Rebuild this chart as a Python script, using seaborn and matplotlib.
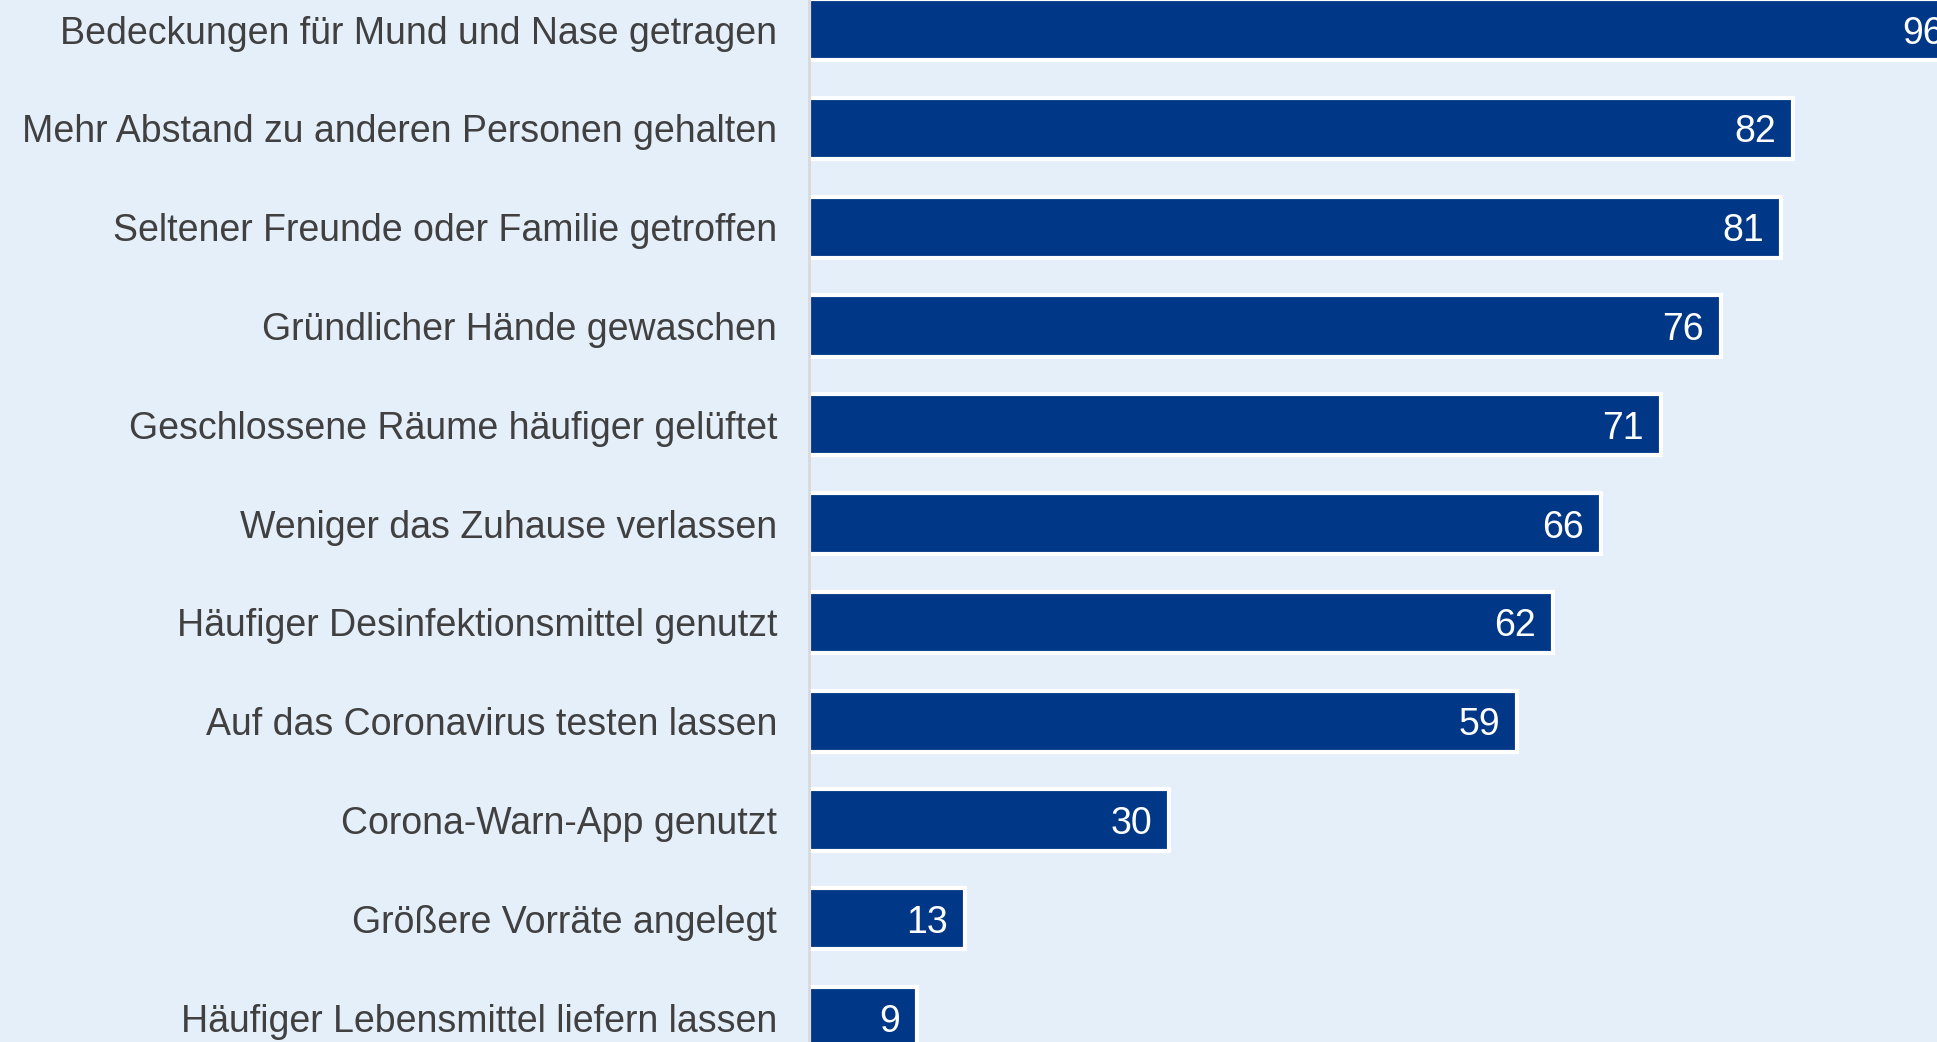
import pandas as pd
import matplotlib
matplotlib.use("Agg")
import matplotlib.pyplot as plt
import seaborn as sns

# =========================
# DATA
# =========================

categories = [
    "Bedeckungen für Mund und Nase getragen",
    "Mehr Abstand zu anderen Personen gehalten",
    "Seltener Freunde oder Familie getroffen",
    "Gründlicher Hände gewaschen",
    "Geschlossene Räume häufiger gelüftet",
    "Weniger das Zuhause verlassen",
    "Häufiger Desinfektionsmittel genutzt",
    "Auf das Coronavirus testen lassen",
    "Corona-Warn-App genutzt",
    "Größere Vorräte angelegt",
    "Häufiger Lebensmittel liefern lassen",
]
values = [96, 82, 81, 76, 71, 66, 62, 59, 30, 13, 9]

df = pd.DataFrame({"Massnahme": categories, "Anteil": values})

# =========================
# STYLE
# =========================

bg = "#E5EFFA"
bar_color = "#003787"
text_color = "#404040"

sns.set_theme(style="white")
plt.rcParams["font.family"] = ["Liberation Sans", "DejaVu Sans"]

# =========================
# FIGURE
# =========================

fig = plt.figure(figsize=(19.37, 10.42), dpi=100)
fig.patch.set_facecolor(bg)

ax = fig.add_axes([809 / 1937, 0, 1 - 809 / 1937, 1])
ax.set_facecolor(bg)

sns.barplot(
    data=df,
    x="Anteil",
    y="Massnahme",
    orient="h",
    color=bar_color,
    saturation=1,
    width=0.62,
    edgecolor="white",
    linewidth=3,
    ax=ax,
)

# value labels inside bars
for i, v in enumerate(values):
    ax.text(
        v - 1.4, i, str(v),
        ha="right", va="center_baseline",
        color="white", fontsize=27,
    )

ax.set_xlim(0, 94.0)
ax.set_ylim(10.247, -0.3)

ax.set_xlabel("")
ax.set_ylabel("")
ax.set_xticks([])
ax.tick_params(axis="y", length=0, pad=23, labelsize=27, labelcolor=text_color)

for side in ["top", "right", "bottom"]:
    ax.spines[side].set_visible(False)
ax.spines["left"].set_color("#D9D9D9")
ax.spines["left"].set_linewidth(2)
ax.spines["left"].set_zorder(5)

fig.savefig("out.png", dpi=100, facecolor=bg)
